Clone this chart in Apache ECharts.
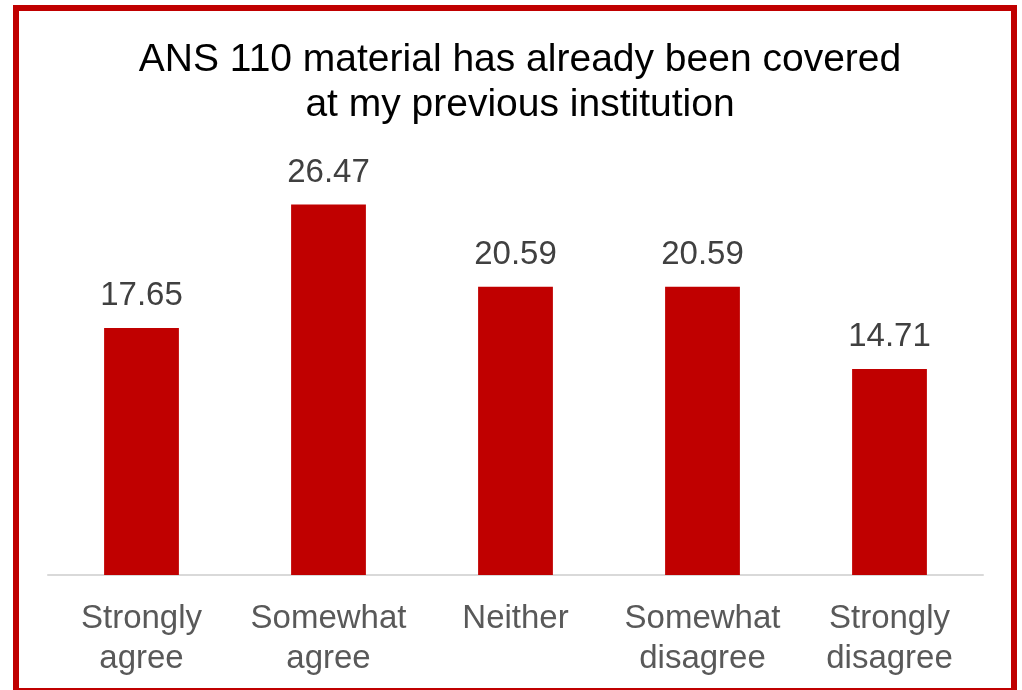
<!DOCTYPE html>
<html>
<head>
<meta charset="utf-8">
<script src="https://cdn.jsdelivr.net/npm/echarts@6/dist/echarts.min.js"></script>
<style>
html,body{margin:0;padding:0;background:#fff;overflow:hidden;}
#frame{position:absolute;left:13px;top:5px;width:992px;height:677px;border:6px solid #c00000;background:#fff;}
#chart{position:absolute;left:0;top:0;width:1022px;height:690px;}
</style>
</head>
<body>
<div id="frame"></div>
<div id="chart"></div>
<script>
const titleLines = ["ANS 110 material has already been covered", "at my previous institution"];
const categories = ["Strongly\nagree", "Somewhat\nagree", "Neither", "Somewhat\ndisagree", "Strongly\ndisagree"];
const values = [17.65, 26.47, 20.59, 20.59, 14.71];

const chart = echarts.init(document.getElementById('chart'));
chart.setOption({
  animation: false,
  title: {
    text: titleLines.join('\n'),
    left: 515, top: 33, textAlign: 'center',
    textStyle: { fontFamily: 'Liberation Sans', fontSize: 39, fontWeight: 'normal', color: '#000', lineHeight: 45 }
  },
  grid: { left: 48, right: 39, top: 155, bottom: 115 },
  xAxis: {
    type: 'category', data: categories,
    axisLine: { lineStyle: { color: '#d9d9d9', width: 2 } },
    axisTick: { show: false },
    axisLabel: { interval: 0, hideOverlap: false, fontFamily: 'Liberation Sans', fontSize: 33, color: '#595959', lineHeight: 40, margin: 24 }
  },
  yAxis: { type: 'value', min: 0, max: 30, show: false, splitLine: { show: false } },
  series: [{
    type: 'bar', data: values, barWidth: '40%',
    itemStyle: { color: '#c00000' },
    label: { show: true, position: 'top', distance: 14, formatter: p => p.value.toFixed(2),
      fontFamily: 'Liberation Sans', fontSize: 33, lineHeight: 36, color: '#404040' }
  }]
});
</script>
</body>
</html>
